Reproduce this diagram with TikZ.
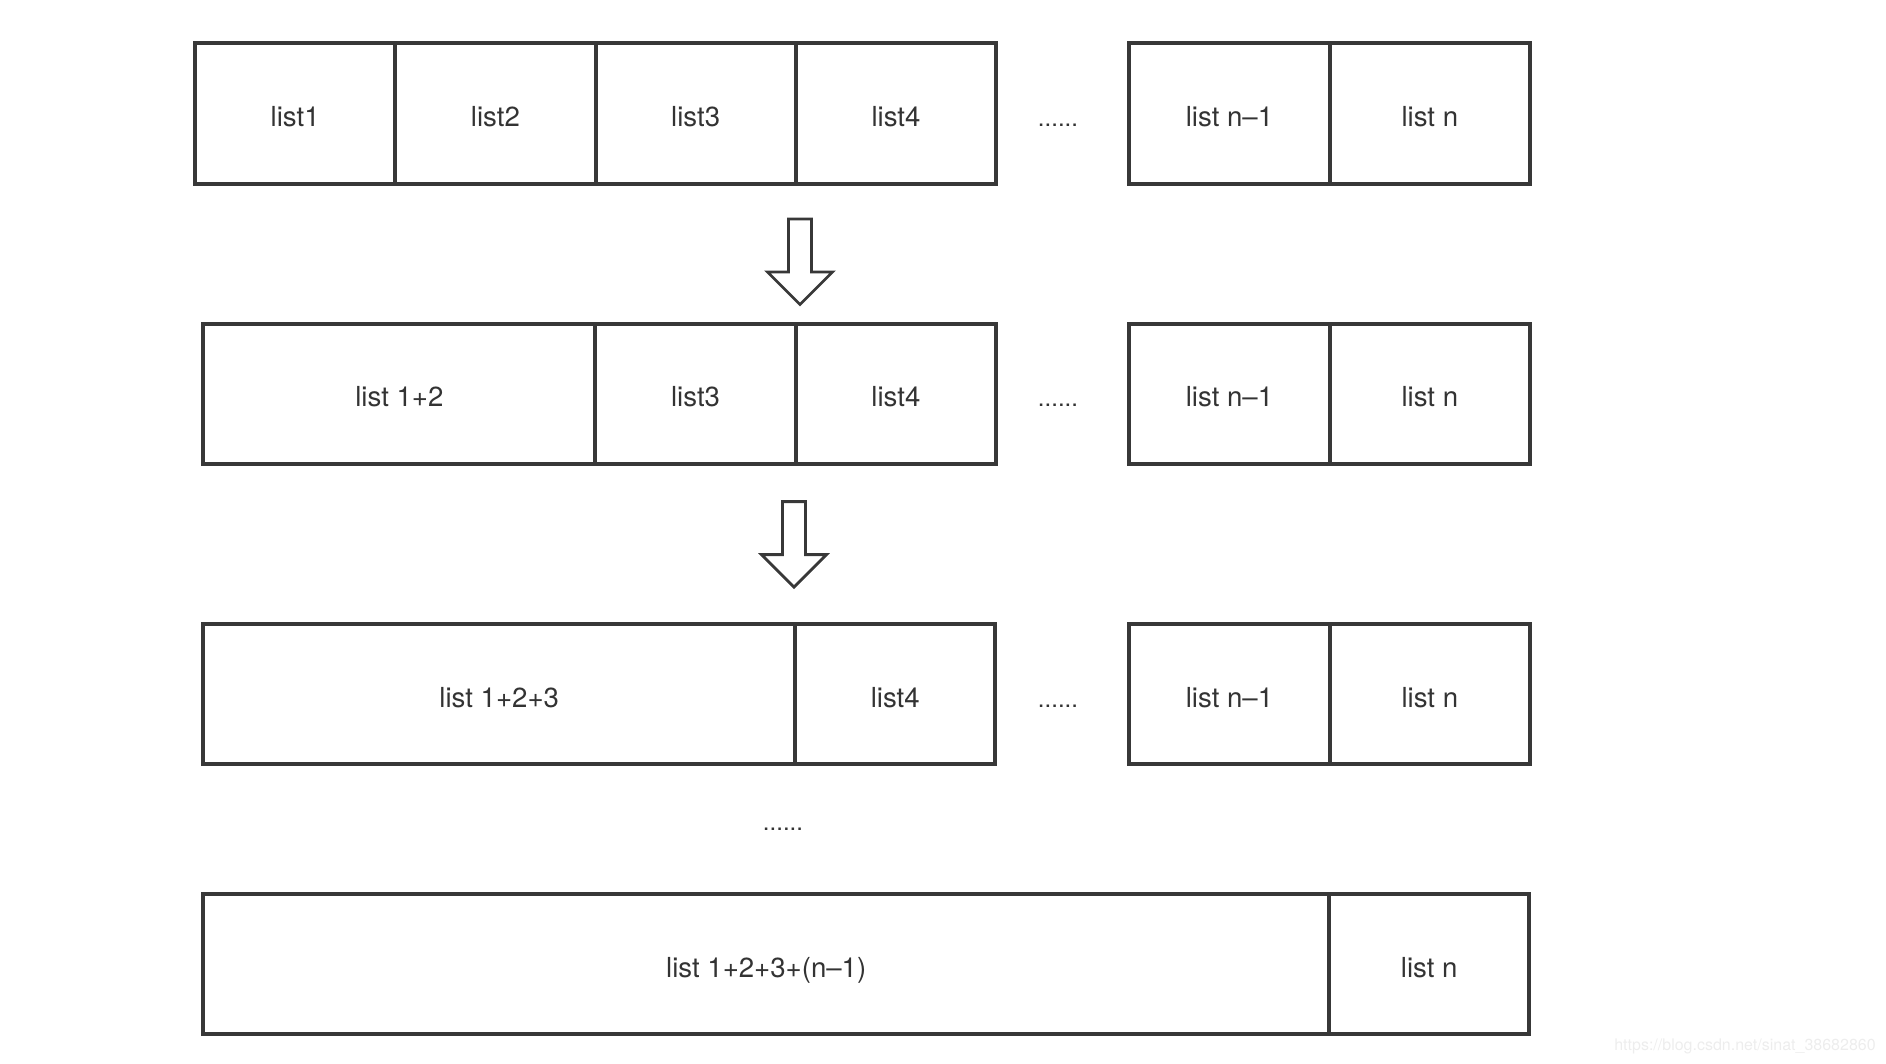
\documentclass[tikz,border=0pt]{standalone}
\usepackage{fontspec}
\setmainfont{TeX Gyre Heros}
\usepackage{tikz}
\usetikzlibrary{positioning}
\definecolor{linegray}{HTML}{383838}
\definecolor{textgray}{HTML}{333333}
\definecolor{markgray}{HTML}{EDEDED}
\newcommand{\mergearrow}[2]{%
  \draw[blockarrow] (#1-11.5,#2) -- (#1+11.5,#2) -- (#1+11.5,#2+53)
    -- (#1+32.5,#2+53) -- (#1,#2+85.5) -- (#1-32.5,#2+53)
    -- (#1-11.5,#2+53) -- cycle;}
\tikzset{
  cell/.style={draw=linegray, line width=2pt, rectangle, minimum width=100.15pt,
    minimum height=70.35pt, inner sep=0pt, outer sep=0pt, text=textgray,
    text height=13pt, text depth=0pt,
    font=\fontsize{13.8}{17}\selectfont},
  gap/.style={text=textgray, font=\fontsize{12}{16}\selectfont, inner sep=0pt,
    text height=13pt, text depth=0pt},
  blockarrow/.style={draw=linegray, line width=1.4pt, line join=miter, fill=white},
  watermark/.style={text=markgray, font=\fontsize{8}{10}\selectfont, inner sep=0pt}
}
\begin{document}
\begin{tikzpicture}[x=0.5pt, y=-0.5pt]
		\useasboundingbox (0,0) rectangle (1886,1064);

		% Row 1
		\node[cell] (a1) at (295.1,113.6) {list1};
		\node[cell, right=0pt of a1] (a2) {list2};
		\node[cell, right=0pt of a2] (a3) {list3};
		\node[cell, right=0pt of a3] (a4) {list4};
		\node[gap] (ga) at (1058,113.6) {......};
		\node[cell] (an1) at (1229.5,113.6) {list n–1};
		\node[cell, right=0pt of an1] (an) {list n};

		\mergearrow{800}{219}

		% Row 2
		\node[cell, minimum width=196.05pt] (b12) at (399.35,394) {list 1+2};
		\node[cell, right=0pt of b12] (b3) {list3};
		\node[cell, right=0pt of b3] (b4) {list4};
		\node[gap] (gb) at (1058,394) {......};
		\node[cell] (bn1) at (1229.5,394) {list n–1};
		\node[cell, right=0pt of bn1] (bn) {list n};

		\mergearrow{794}{501.6}

		% Row 3
		\node[cell, minimum width=295.9pt] (c123) at (499.2,694) {list 1+2+3};
		\node[cell, right=0pt of c123] (c4) {list4};
		\node[gap] (gc) at (1058,694) {......};
		\node[cell] (cn1) at (1229.5,694) {list n–1};
		\node[cell, right=0pt of cn1] (cn) {list n};

		\node[gap] (gd) at (783,817) {......};

		% Row 4
		\node[cell, minimum width=562.9pt] (dall) at (766.2,964) {list 1+2+3+(n–1)};
		\node[cell, right=0pt of dall] (dn) {list n};

		\node[watermark] (url) at (1745,1046) {https://blog.csdn.net/sinat\_38682860};

	\end{tikzpicture}
\end{document}
